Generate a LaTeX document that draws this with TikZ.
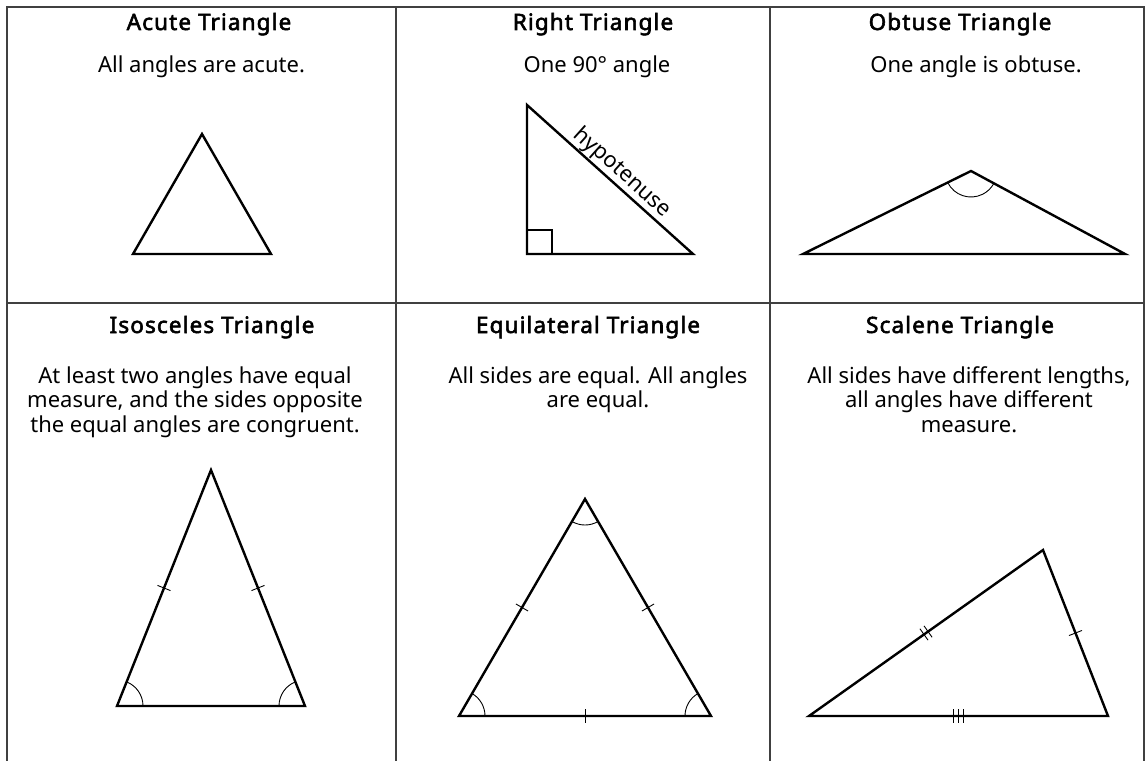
\documentclass[tikz,border=0pt]{standalone}
\usepackage{fontspec}
\setmainfont{Noto Sans}[BoldFont={Noto Sans}, BoldFeatures={FakeBold=2.5, LetterSpace=5}]
\usepackage{tikz}
\usetikzlibrary{calc, angles}
\tikzset{
  frameline/.style={draw=black!75, line width=1.2pt},
  tri/.style={draw=black, line width=2.4pt, line join=miter},
  anglemark/.style={draw, line width=0.9pt, angle radius=26pt},
  tickmark/.style={line width=0.9pt},
  title/.style={font=\bfseries\fontsize{22.5}{24.5}\selectfont, anchor=base, inner sep=0pt},
  desc/.style={font=\fontsize{22}{24.5}\selectfont, align=center, anchor=base, inner sep=0pt},
}
% tick across the side #1--#2, shifted #3 along it
\newcommand{\sidetick}[3]{\draw[tickmark] ($(#1)!0.5!(#2)!#3!(#2)!7pt!90:(#2)$) -- ($(#1)!0.5!(#2)!#3!(#2)!7pt!-90:(#2)$);}

\begin{document}
\begin{tikzpicture}[x=1pt, y=-1pt]
  \useasboundingbox (0,0) rectangle (1148,760);
  % ================================================================
  % grid
  % ================================================================
  \draw[frameline] (7,7) rectangle (1144,780);
  \draw[frameline] (396,7) -- (396,780);
  \draw[frameline] (770,7) -- (770,780);
  \draw[frameline] (7,303) -- (1144,303);
  % ================================================================
  % acute
  % ================================================================
  \node[title] (acT) at (209,30) {Acute Triangle};
  \node[desc] (acD) at (201.5,72) {All angles are acute.};
  \coordinate (acL) at (133,254);
  \coordinate (acR) at (271,254);
  \coordinate (acA) at (202,134);
  \draw[tri] (acL) -- (acR) -- (acA) -- cycle;
  % ================================================================
  % right
  % ================================================================
  \node[title] (rtT) at (593,30) {Right Triangle};
  \node[desc] (rtD) at (597,72) {One 90° angle};
  \coordinate (rtA) at (527,105);
  \coordinate (rtC) at (527,254);
  \coordinate (rtB) at (693,254);
  \draw[tri] (rtA) -- (rtC) -- (rtB) -- cycle;
  \path (rtA) -- node[sloped, above, pos=0.52, font=\fontsize{22}{24}\selectfont, inner sep=2pt] (hyp) {hypotenuse} (rtB);
  \draw[line width=2pt] (527,230) -| (552,254);
  % ================================================================
  % obtuse
  % ================================================================
  \node[title] (obT) at (960,30) {Obtuse Triangle};
  \node[desc] (obD) at (976,72) {One angle is obtuse.};
  \coordinate (obL) at (803,254);
  \coordinate (obR) at (1125,254);
  \coordinate (obA) at (971,171);
  \draw[tri] (obL) -- (obR) -- (obA) -- cycle;
  \pic[anglemark] {angle = obL--obA--obR};
  % ================================================================
  % isosceles
  % ================================================================
  \node[title] (isT) at (212,333) {Isosceles Triangle};
  % base of a multi-line node sits on its last line
  \node[desc] (isD) at (195,432) {At least two angles have equal\\measure, and the sides opposite\\the equal angles are congruent.};
  \coordinate (isL) at (117,706);
  \coordinate (isR) at (305,706);
  \coordinate (isA) at (211,470);
  \draw[tri] (isL) -- (isR) -- (isA) -- cycle;
  \pic[anglemark] {angle = isR--isL--isA};
  \pic[anglemark] {angle = isA--isR--isL};
  \sidetick{isL}{isA}{0pt}
  \sidetick{isR}{isA}{0pt}
  % ================================================================
  % equilateral
  % ================================================================
  \node[title] (eqT) at (588,333) {Equilateral Triangle};
  \node[desc] (eqD) at (598,407.5) {All sides are equal. All angles\\are equal.};
  \coordinate (eqL) at (459,716);
  \coordinate (eqR) at (711,716);
  \coordinate (eqA) at (585,499);
  \draw[tri] (eqL) -- (eqR) -- (eqA) -- cycle;
  \pic[anglemark] {angle = eqR--eqL--eqA};
  \pic[anglemark] {angle = eqA--eqR--eqL};
  \pic[anglemark] {angle = eqL--eqA--eqR};
  \sidetick{eqL}{eqA}{0pt}
  \sidetick{eqR}{eqA}{0pt}
  \sidetick{eqL}{eqR}{0pt}
  % ================================================================
  % scalene
  % ================================================================
  \node[title] (scT) at (960,333) {Scalene Triangle};
  \node[desc] (scD) at (969,432) {All sides have different lengths,\\all angles have different\\measure.};
  \coordinate (scL) at (809,716);
  \coordinate (scR) at (1108,716);
  \coordinate (scA) at (1043,550);
  \draw[tri] (scL) -- (scR) -- (scA) -- cycle;
  \sidetick{scR}{scA}{0pt}
  \sidetick{scL}{scA}{-2.5pt}
  \sidetick{scL}{scA}{2.5pt}
  \foreach \s in {-5pt,0pt,5pt} {
    \sidetick{scL}{scR}{\s}
  }
\end{tikzpicture}
\end{document}
